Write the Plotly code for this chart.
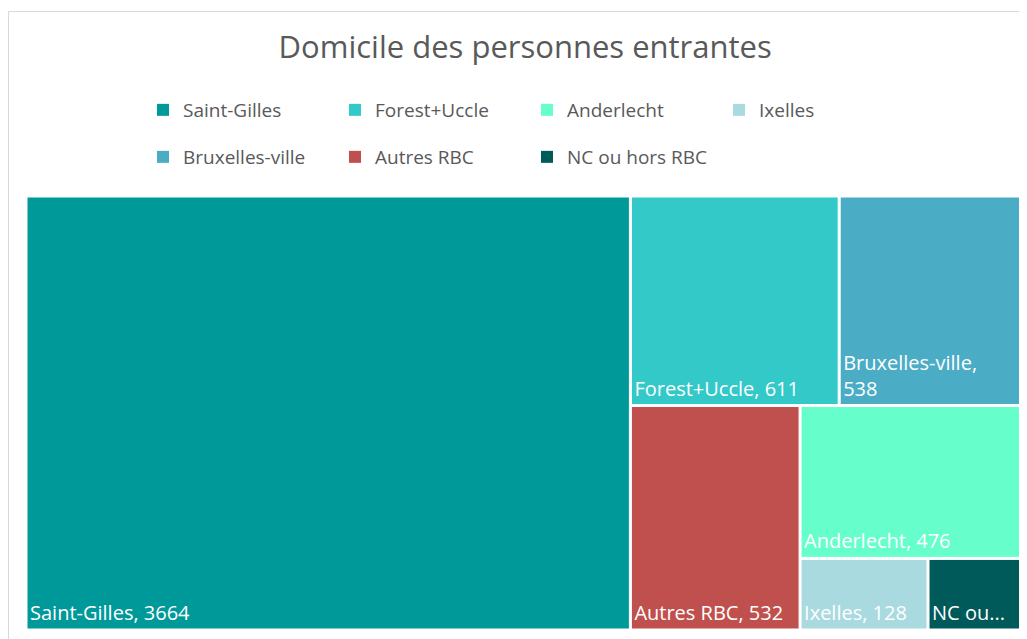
import plotly.graph_objects as go

# Data
labels = ["Saint-Gilles", "Forest+Uccle", "Bruxelles-ville", "Autres RBC", "Anderlecht", "Ixelles", "NC ou hors RBC"]
values = [3664, 611, 538, 532, 476, 128, 95]
tile_text = ["Saint-Gilles, 3664", "Forest+Uccle, 611", "Bruxelles-ville,<br>538", "Autres RBC, 532",
             "Anderlecht, 476", "Ixelles, 128", "NC ou..."]
colors = ["#009999", "#33C9C9", "#4BACC6", "#C0504D", "#66FFCC", "#A8DAE0", "#005A5A"]

legend_row1 = ["Saint-Gilles", "Forest+Uccle", "Anderlecht", "Ixelles"]
legend_row2 = ["Bruxelles-ville", "Autres RBC", "NC ou hors RBC"]

color_of = dict(zip(labels, colors))

fig = go.Figure()
fig.add_trace(go.Treemap(
    labels=labels,
    parents=[""] * len(labels),
    values=values,
    text=tile_text,
    texttemplate="%{text}",
    textposition="bottom left",
    sort=True,
    marker=dict(colors=colors, line=dict(color="white", width=1), pad=dict(t=0, l=0, r=0, b=0)),
    tiling=dict(packing="squarify", pad=2),
    pathbar=dict(visible=False),
    textfont=dict(family="Open Sans", size=20, color="white"),
    hoverinfo="label+value",
))

for name in legend_row1:
    fig.add_trace(go.Scatter(x=[None], y=[None], mode="markers", name=name,
                             marker=dict(symbol="square", size=12, color=color_of[name]),
                             legend="legend"))
for name in legend_row2:
    fig.add_trace(go.Scatter(x=[None], y=[None], mode="markers", name=name,
                             marker=dict(symbol="square", size=12, color=color_of[name]),
                             legend="legend2"))

# page offset of the figure inside the browser window (body margin)
OFF = 8
W, H = 1027 - OFF, 639 - OFF
L, R, T, B = 19, 5, 189, 10
pw, ph = W - L - R, H - T - B

def px_x(p):
    return (p - OFF - L) / pw

def px_y(p):
    return (H - B - (p - OFF)) / ph

legend_common = dict(orientation="h", xanchor="left", yanchor="middle",
                     font=dict(family="Open Sans", size=19, color="#595959"),
                     entrywidth=147, entrywidthmode="pixels", itemclick=False,
                     bgcolor="rgba(0,0,0,0)", traceorder="normal")

fig.update_layout(
    width=W, height=H,
    margin=dict(l=L, r=R, t=T, b=B),
    paper_bgcolor="white",
    plot_bgcolor="rgba(0,0,0,0)",
    title=dict(text="Domicile des personnes entrantes", x=px_x(532), xanchor="center",
               y=1 - (47 - OFF) / H, yanchor="middle",
               font=dict(family="Open Sans", size=31, color="#595959")),
    xaxis=dict(visible=False),
    yaxis=dict(visible=False),
    legend=dict(x=px_x(143), y=px_y(110), **legend_common),
    legend2=dict(x=px_x(143), y=px_y(157), **legend_common),
    uniformtext=dict(minsize=20, mode="show"),
    shapes=[dict(type="rect", xref="paper", yref="paper",
                 x0=px_x(8.5), x1=px_x(1035), y0=px_y(645), y1=px_y(11.5),
                 line=dict(color="#D9D9D9", width=1), fillcolor="rgba(0,0,0,0)", layer="below")],
)

fig.write_html("out.html")
